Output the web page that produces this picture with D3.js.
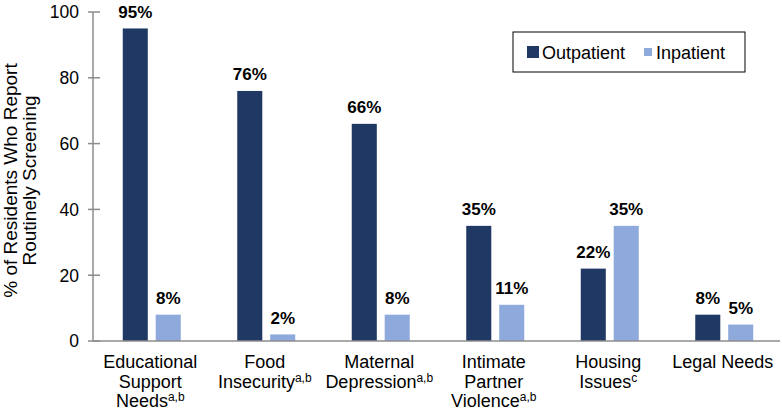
<!DOCTYPE html>
<html><head><meta charset="utf-8">
<script src="https://cdn.jsdelivr.net/npm/d3@7"></script>
<style>body{margin:0;background:#fff}svg{display:block;font-family:"Liberation Sans",Arial,sans-serif}</style>
</head><body>
<script>
const categories = [
  {lines:["Educational","Support","Needs"], sup:"a,b"},
  {lines:["Food","Insecurity"], sup:"a,b"},
  {lines:["Maternal","Depression"], sup:"a,b"},
  {lines:["Intimate","Partner","Violence"], sup:"a,b"},
  {lines:["Housing","Issues"], sup:"c"},
  {lines:["Legal Needs"], sup:""}
];
const seriesNames = ["Outpatient","Inpatient"];
const outpatient = [95, 76, 66, 35, 22, 8];
const inpatient = [8, 2, 8, 11, 35, 5];
const yTicks = [0, 20, 40, 60, 80, 100];
const colors = ["#1f3864", "#8ea9db"];

const W = 782, H = 411;
const svg = d3.select("body").append("svg").attr("width", W).attr("height", H);
const x0 = 93, x1 = 780, yTop = 12, yBot = 341;

const x = d3.scaleBand().domain(d3.range(categories.length)).range([x0, x1]);
const bw = x.bandwidth();
const xs = d3.scaleBand().domain(seriesNames).range([bw/2 - 27.5, bw/2 + 30.5]).paddingInner(0.24);
const y = d3.scaleLinear().domain([0, 100]).range([yBot, yTop]);

const series = [outpatient, inpatient];
series.forEach((vals, si) => {
  const g = svg.append("g");
  g.selectAll("rect").data(vals).join("rect")
    .attr("x", (d, i) => x(i) + xs(seriesNames[si]))
    .attr("width", xs.bandwidth())
    .attr("y", d => y(d))
    .attr("height", d => y(0) - y(d))
    .attr("fill", colors[si]);
  g.selectAll("text").data(vals).join("text")
    .attr("x", (d, i) => x(i) + xs(seriesNames[si]) + xs.bandwidth()/2)
    .attr("y", d => y(d) - 10.5)
    .attr("text-anchor", "middle")
    .attr("font-size", 17).attr("font-weight", "bold").attr("fill", "#000")
    .text(d => d + "%");
});

// axes
const axisColor = "#8c8c8c";
svg.append("line").attr("x1", x0).attr("x2", x0).attr("y1", yTop).attr("y2", yBot).attr("stroke", axisColor).attr("stroke-width", 1.5);
svg.append("line").attr("x1", x0).attr("x2", x1).attr("y1", yBot).attr("y2", yBot).attr("stroke", axisColor).attr("stroke-width", 1.5);
const yg = svg.append("g");
yg.selectAll("line").data(yTicks).join("line")
  .attr("x1", x0 - 5).attr("x2", x0 + 7)
  .attr("y1", d => y(d)).attr("y2", d => y(d))
  .attr("stroke", axisColor).attr("stroke-width", 1.5);
yg.selectAll("text").data(yTicks).join("text")
  .attr("x", 79).attr("y", d => y(d)).attr("dy", "0.36em")
  .attr("text-anchor", "end").attr("font-size", 17.5).attr("fill", "#000")
  .text(d => d);

// y title
const yt = svg.append("text").attr("transform", `translate(0,${(yTop + yBot)/2 + 4}) rotate(-90)`)
  .attr("text-anchor", "middle").attr("font-size", 19).attr("fill", "#000");
yt.append("tspan").attr("x", 0).attr("y", 17).text("% of Residents Who Report");
yt.append("tspan").attr("x", 0).attr("y", 36).text("Routinely Screening");

// x labels
categories.forEach((c, i) => {
  const g = svg.append("g");
  const cx = x(i) + bw/2;
  c.lines.forEach((ln, li) => {
    const isLast = li === c.lines.length - 1;
    const t = g.append("text").attr("text-anchor", "middle").attr("font-size", 18).attr("fill", "#000")
      .attr("x", cx).attr("y", 368 + li * 19.5);
    t.append("tspan").text(ln);
    if (isLast && c.sup) {
      t.append("tspan").attr("font-size", 12).attr("dy", -6).text(c.sup);
    }
  });
});

// legend
const lg = svg.append("g");
lg.append("rect").attr("x", 513).attr("y", 32).attr("width", 232).attr("height", 40)
  .attr("fill", "#fff").attr("stroke", "#000").attr("stroke-width", 1);
seriesNames.forEach((s, i) => {
  const lx = [527, 644][i];
  lg.append("rect").attr("x", lx).attr("y", i === 0 ? 46 : 48).attr("width", i === 0 ? 12 : 8).attr("height", i === 0 ? 12 : 8)
    .attr("fill", colors[i]);
  lg.append("text").attr("x", lx + (i === 0 ? 15 : 12)).attr("y", 58.5).attr("font-size", 18).attr("fill", "#000").text(s);
});
</script>
</body></html>
